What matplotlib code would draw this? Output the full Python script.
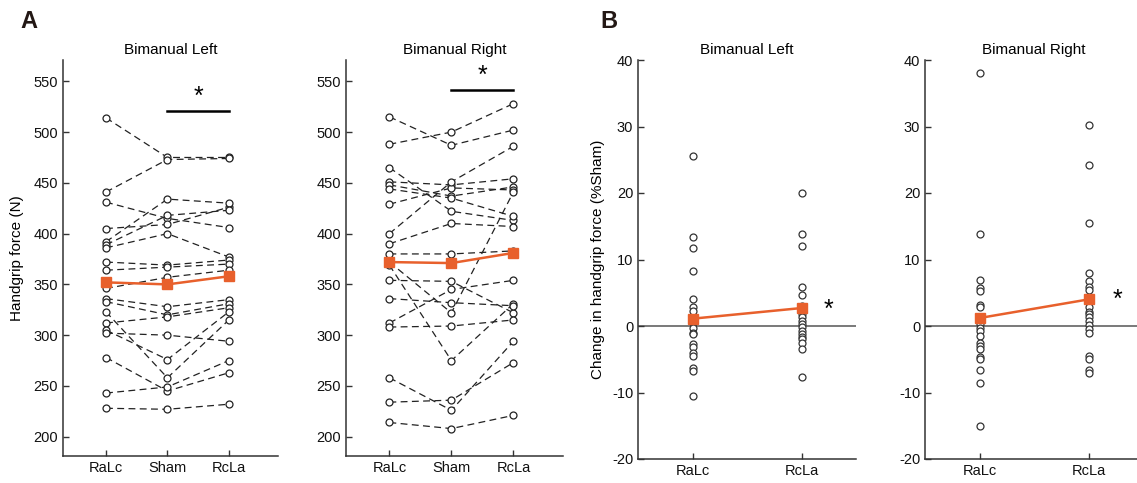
"""
Handgrip force per condition (A) and change relative to Sham (B),
bimanual left and right.
"""

import matplotlib
matplotlib.use("Agg")
import matplotlib.pyplot as plt

plt.rcParams['font.family'] = ['Liberation Sans', 'DejaVu Sans']
plt.rcParams['axes.unicode_minus'] = False

# Conditions.
COND_A = ['RaLc', 'Sham', 'RcLa']
COND_B = ['RaLc', 'RcLa']

# Panel A, Bimanual Left: per subject forces (N) for RaLc, Sham, RcLa.
LEFT_RALC = [514, 441, 431, 405, 392, 389, 386, 372, 364, 346,
             336, 333, 323, 312, 305, 302, 278, 243, 228]
LEFT_SHAM = [475, 473, 415, 409, 434, 418, 400, 369, 367, 357,
             328, 320, 258, 318, 276, 300, 245, 249, 227]
LEFT_RCLA = [475, 474, 406, 426, 430, 423, 377, 374, 370, 364,
             335, 331, 315, 327, 323, 294, 263, 275, 232]
LEFT_MEAN = [352, 350, 358]

# Panel A, Bimanual Right.
RIGHT_RALC = [515, 488, 465, 451, 448, 444, 429, 400, 390, 380,
              369, 354, 336, 312, 308, 372, 258, 234, 214]
RIGHT_SHAM = [487, 500, 422, 448, 437, 435, 445, 451, 410, 380,
              275, 353, 332, 345, 309, 322, 226, 236, 208]
RIGHT_RCLA = [502, 528, 413, 454, 446, 417, 443, 486, 407, 383,
              331, 322, 329, 354, 315, 441, 294, 273, 221]
RIGHT_MEAN = [372, 371, 381]

# Panel B: change in handgrip force (%Sham).
CHG_LEFT_RALC = [25.5, 13.4, 11.8, 8.3, 4.1, 2.8, 2.3, 1.0, 0.5, -0.3,
                 -1.0, -1.2, -2.7, -3.2, -4.1, -4.5, -6.3, -6.8, -10.5]
CHG_LEFT_RCLA = [20.0, 13.9, 12.1, 5.8, 4.6, 3.0, 2.2, 1.8, 1.3, 0.8,
                 0.3, -0.2, -0.8, -1.2, -1.6, -2.0, -2.5, -3.5, -7.7]
CHG_LEFT_MEAN = [1.1, 2.7]

CHG_RIGHT_RALC = [38.1, 13.9, 6.9, 5.7, 5.3, 3.2, 2.9, 0.3, -0.3, -0.8,
                  -1.5, -2.5, -3.0, -3.5, -4.7, -5.0, -6.6, -8.6, -15.1]
CHG_RIGHT_RCLA = [30.3, 24.2, 15.5, 8.0, 6.7, 5.9, 5.4, 2.9, 2.1, 1.8,
                  1.4, 0.8, 0.2, -0.45, -1.0, -4.5, -5.0, -6.6, -7.1]
CHG_RIGHT_MEAN = [1.2, 4.0]

# Style.
W, H = 1137, 483
ORANGE = '#E8602C'
DARK = '#333333'
FS = 10.5


def px_axes(fig, x0, y0, x1, y1):
    """Add axes from pixel box (top-left origin)."""
    return fig.add_axes([x0 / W, (H - y1) / H, (x1 - x0) / W, (y1 - y0) / H])


def style(ax):
    ax.spines['top'].set_visible(False)
    ax.spines['right'].set_visible(False)
    for s in ('left', 'bottom'):
        ax.spines[s].set_linewidth(1.1)
        ax.spines[s].set_color(DARK)
    ax.tick_params(direction='in', length=4, width=1, color=DARK,
                   labelsize=FS, labelcolor='#111111')


def panel_a(ax, a, b, c, mean, title, bar_y, star_y):
    style(ax)
    xs = [1, 2, 3]
    for subj in zip(a, b, c):
        ax.plot(xs, subj, color='#222222', lw=0.9, dashes=(5.5, 3.5),
                marker='o', ms=5, mfc='white', mec='#222222', mew=0.9,
                zorder=2)
    ax.plot(xs, mean, color=ORANGE, lw=1.8, marker='s', ms=6.5,
            mec=ORANGE, mfc=ORANGE, zorder=4)
    ax.plot([2, 3], [bar_y, bar_y], color='black', lw=1.8)
    ax.text(2.5, star_y, '*', ha='center', va='center', fontsize=18)
    ax.set_xlim(0.3, 3.8)
    ax.set_ylim(181, 571)
    ax.set_xticks(xs)
    ax.set_xticklabels(COND_A)
    ax.set_yticks(range(200, 551, 50))
    ax.set_title(title, fontsize=FS + 0.5, pad=4)


def panel_b(ax, a, b, mean, title, star_x, star_y):
    style(ax)
    ax.axhline(0, color='#555555', lw=1.1, zorder=1)
    ax.plot([1] * len(a), a, ls='none', marker='o', ms=5, mfc='white',
            mec='#333333', mew=0.9, zorder=2)
    ax.plot([2] * len(b), b, ls='none', marker='o', ms=5, mfc='white',
            mec='#333333', mew=0.9, zorder=2)
    ax.plot([1, 2], mean, color=ORANGE, lw=1.8, marker='s', ms=6.5,
            mec=ORANGE, mfc=ORANGE, zorder=4)
    ax.text(star_x, star_y, '*', ha='center', va='center', fontsize=18)
    ax.set_xlim(0.5, 2.5)
    ax.set_ylim(-20, 40)
    ax.set_xticks([1, 2])
    ax.set_xticklabels(COND_B)
    ax.set_yticks(range(-20, 41, 10))
    ax.set_title(title, fontsize=FS + 0.5, pad=4)


def main():
    fig = plt.figure(figsize=(W / 100, H / 100), dpi=100)

    ax1 = px_axes(fig, 63, 60, 278, 456)
    panel_a(ax1, LEFT_RALC, LEFT_SHAM, LEFT_RCLA, LEFT_MEAN,
            'Bimanual Left', 521, 535)
    ax1.set_ylabel('Handgrip force (N)', fontsize=FS + 0.5, labelpad=7)

    ax2 = px_axes(fig, 346, 60, 563, 456)
    panel_a(ax2, RIGHT_RALC, RIGHT_SHAM, RIGHT_RCLA, RIGHT_MEAN,
            'Bimanual Right', 541, 555)

    ax3 = px_axes(fig, 638, 60, 856, 459)
    panel_b(ax3, CHG_LEFT_RALC, CHG_LEFT_RCLA, CHG_LEFT_MEAN,
            'Bimanual Left', 2.25, 2.4)
    ax3.set_ylabel('Change in handgrip force (%Sham)', fontsize=FS + 0.5,
                   labelpad=5)

    ax4 = px_axes(fig, 925, 60, 1143, 459)
    panel_b(ax4, CHG_RIGHT_RALC, CHG_RIGHT_RCLA, CHG_RIGHT_MEAN,
            'Bimanual Right', 2.27, 3.9)

    fig.text(20 / W, 1 - 21 / H, 'A', fontsize=17, fontweight='bold',
             va='center', color='#231815')
    fig.text(600 / W, 1 - 21 / H, 'B', fontsize=17, fontweight='bold',
             va='center', color='#231815')

    fig.savefig('out.png', dpi=100)


if __name__ == "__main__":
    main()
